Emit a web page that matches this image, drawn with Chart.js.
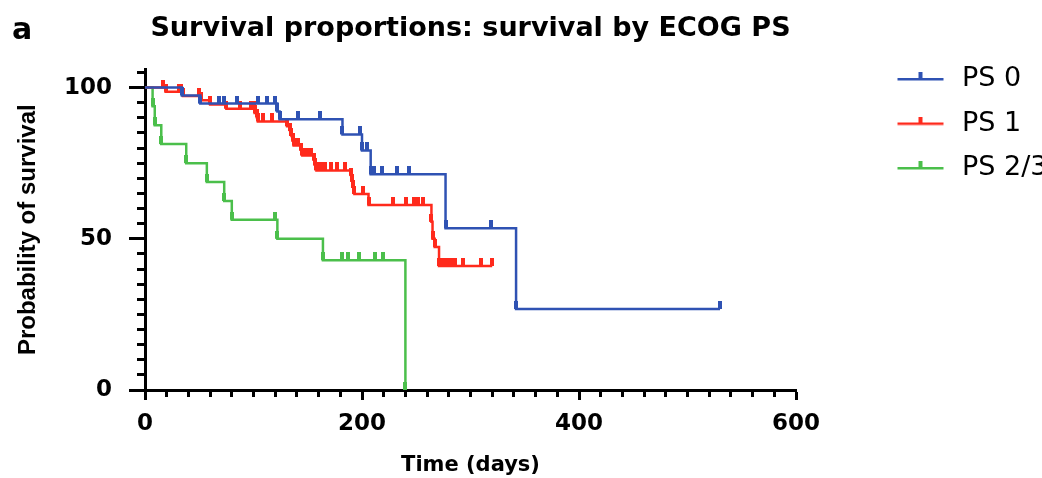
<!DOCTYPE html>
<html>
<head>
<meta charset="utf-8">
<script src="https://cdn.jsdelivr.net/npm/chart.js@4.4.0/dist/chart.umd.min.js"></script>
<style>
  body { margin: 0; background: #fff; overflow: hidden; }
</style>
</head>
<body>
<canvas id="km" width="1042" height="478"></canvas>
<script>
// Kaplan-Meier steps: day of each event / censor and the survival (%) after it
const ps0Days = [0, 34, 51, 68, 73, 85, 104, 112, 120, 122, 124, 141, 161, 182, 198, 200, 205, 208, 211, 218, 232, 243, 277, 319, 342, 530];
const ps0Surv = [100, 97.4, 94.7, 94.7, 94.7, 94.7, 94.7, 94.7, 94.7, 92.1, 89.5, 89.5, 89.5, 84.5, 84.5, 79.2, 79.2, 71.3, 71.3, 71.3, 71.3, 71.3, 53.5, 53.5, 26.8, 26.8];

const ps1Days = [0, 17, 19, 31, 33, 35, 50, 52, 60, 75, 88, 98, 100, 101, 103, 104, 109, 117, 131, 134,
  135, 136, 137, 139, 141, 144, 145, 147, 150, 153, 156, 157, 158, 159, 162, 166, 171, 177, 184, 190,
  191, 192, 193, 201, 206, 229, 241, 248, 252, 256, 264, 265, 267, 271, 273, 276, 279, 283, 286, 293, 310, 320];
const ps1Surv = [100, 100, 98.6, 98.6, 98.6, 97.2, 97.2, 95.8, 94.4, 93.0, 93.0, 93.0, 93.0, 91.6, 90.2, 88.8, 88.8, 88.8, 87.2, 85.6,
  84.0, 82.4, 80.8, 80.8, 80.8, 79.1, 77.5, 77.5, 77.5, 77.5, 75.8, 74.2, 72.6, 72.6, 72.6, 72.6, 72.6, 72.6, 72.6, 70.8,
  68.8, 66.8, 64.8, 64.8, 61.2, 61.2, 61.2, 61.2, 61.2, 61.2, 55.6, 50.0, 47.3, 41.0, 41.0, 41.0, 41.0, 41.0, 41.0, 41.0, 41.0, 41.0];

const ps23Days = [0, 7, 9, 15, 38, 57, 73, 80, 120, 122, 164, 182, 187, 197, 212, 219, 240];
const ps23Surv = [100, 93.8, 87.5, 81.3, 75.0, 68.8, 62.5, 56.3, 56.3, 50.0, 42.9, 42.9, 42.9, 42.9, 42.9, 42.9, 0];

const groupNames = ['PS 0', 'PS 1', 'PS 2/3'];
const groupColors = ['#2f52b3', '#ff2a1c', '#4bbf4b'];

const xTicksMajor = [0, 200, 400, 600];
const yTicksMajor = [0, 50, 100];

// little upward tick used by Prism for each point
function makeTick(color) {
  const c = document.createElement('canvas');
  c.width = 4; c.height = 16;
  const g = c.getContext('2d');
  g.fillStyle = color;
  g.fillRect(0, 0, 4, 8);
  return c;
}

// legend sample: short line with a tick in the middle (left part left empty on purpose)
function makeLegendIcon(color) {
  const c = document.createElement('canvas');
  c.width = 135; c.height = 14;
  const g = c.getContext('2d');
  g.fillStyle = color;
  g.fillRect(84, 6, 46, 2.5);
  g.fillRect(105, 0, 4, 8);
  return c;
}

function toPoints(days, surv) {
  return days.map((d, i) => ({ x: d, y: surv[i] }));
}

const series = [[ps0Days, ps0Surv], [ps1Days, ps1Surv], [ps23Days, ps23Surv]];

const datasets = series.map((s, i) => ({
  label: groupNames[i],
  data: toPoints(s[0], s[1]),
  borderColor: groupColors[i],
  backgroundColor: groupColors[i],
  borderWidth: 2.5,
  stepped: 'before',
  fill: false,
  pointStyle: makeTick(groupColors[i]),
  pointRadius: ctx => ctx.dataIndex === 0 ? 0 : 3,
  pointHoverRadius: 3
}));

const legendIcons = groupColors.map(makeLegendIcon);

const panelLabel = {
  id: 'panelLabel',
  afterDraw(chart) {
    const ctx = chart.ctx;
    ctx.save();
    ctx.font = 'bold 30px "DejaVu Sans"';
    ctx.fillStyle = '#000';
    ctx.textBaseline = 'alphabetic';
    ctx.fillText('a', 12, 39);
    ctx.restore();
  }
};

const boldFont = (size) => ({ family: '"DejaVu Sans", sans-serif', weight: 'bold', size: size });

new Chart(document.getElementById('km'), {
  type: 'line',
  data: { datasets: datasets },
  plugins: [panelLabel],
  options: {
    responsive: false,
    animation: false,
    layout: { padding: 0 },
    plugins: {
      tooltip: { enabled: false },
      title: {
        display: true,
        text: 'Survival proportions: survival by ECOG PS',
        fullSize: false,
        color: '#000',
        font: boldFont(27),
        padding: { top: 13, bottom: 24 }
      },
      legend: {
        position: 'right',
        align: 'start',
        maxWidth: 246,
        title: { display: true, text: ' ', font: { size: 10 }, padding: { top: 36, bottom: 0 } },
        labels: {
          usePointStyle: true,
          pointStyleWidth: 135,
          color: '#000',
          padding: 17.5,
          font: { family: '"DejaVu Sans", sans-serif', size: 27 },
          generateLabels(chart) {
            const items = Chart.defaults.plugins.legend.labels.generateLabels(chart);
            items.forEach((it, i) => { it.pointStyle = legendIcons[i]; });
            return items;
          }
        }
      }
    },
    scales: {
      x: {
        type: 'linear',
        min: 0,
        max: 600,
        afterFit(scale) { scale.height = 88; },
        border: { color: '#000', width: 3 },
        grid: {
          drawOnChartArea: false,
          tickLength: 10,
          tickWidth: 3,
          tickColor: '#000',
          tickBorderDash: c => (c.tick && xTicksMajor.includes(c.tick.value)) ? [] : [5, 100]
        },
        ticks: {
          stepSize: 20,
          autoSkip: false,
          maxRotation: 0,
          padding: 10,
          color: '#000',
          font: boldFont(23),
          callback: v => xTicksMajor.includes(v) ? String(v) : ''
        },
        title: {
          display: true,
          text: 'Time (days)',
          color: '#000',
          font: boldFont(21),
          padding: { top: 0, bottom: 0 }
        }
      },
      y: {
        min: 0,
        max: 106,
        afterFit(scale) { scale.width = 145; },
        border: { color: '#000', width: 3 },
        grid: {
          drawOnChartArea: false,
          tickLength: 16,
          tickWidth: 3,
          tickColor: '#000',
          tickBorderDash: c => (c.tick && yTicksMajor.includes(c.tick.value)) ? [] : [0, 8, 100, 0]
        },
        ticks: {
          stepSize: 5,
          autoSkip: false,
          includeBounds: false,
          padding: 17,
          color: '#000',
          font: boldFont(23),
          callback: v => yTicksMajor.includes(v) ? String(v) : ''
        },
        title: {
          display: true,
          text: 'Probability of survival',
          color: '#000',
          font: { family: '"Liberation Sans", Arial, sans-serif', weight: 'bold', size: 24 },
          padding: { top: 14, bottom: 0 }
        }
      }
    }
  }
});
</script>
</body>
</html>
